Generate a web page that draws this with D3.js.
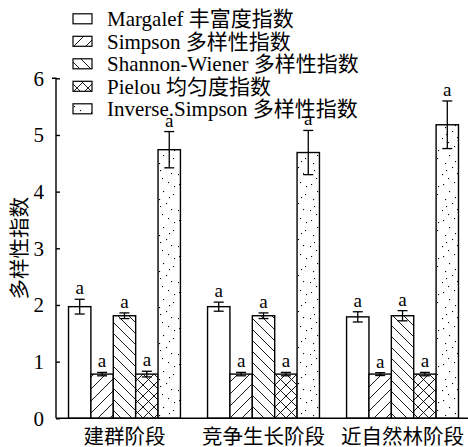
<!DOCTYPE html>
<html><head><meta charset="utf-8">
<script src="https://cdn.jsdelivr.net/npm/d3@7"></script>
<style>
html,body{margin:0;padding:0;background:#fff;}
svg text{font-family:"Liberation Serif","Noto Sans CJK SC",serif;fill:#000;}
</style></head>
<body><svg id="c" width="468" height="447"></svg>
<script>
const categories = ["建群阶段", "竞争生长阶段", "近自然林阶段"];
const seriesNames = ["Margalef 丰富度指数", "Simpson 多样性指数", "Shannon-Wiener 多样性指数", "Pielou 均匀度指数", "Inverse.Simpson 多样性指数"];
const margalef = [1.97, 1.97, 1.79];
const margalefErr = [0.13, 0.08, 0.09];
const simpson = [0.78, 0.78, 0.78];
const simpsonErr = [0.03, 0.03, 0.025];
const shannon = [1.81, 1.81, 1.81];
const shannonErr = [0.05, 0.05, 0.09];
const pielou = [0.78, 0.78, 0.78];
const pielouErr = [0.05, 0.03, 0.03];
const inverseSimpson = [4.74, 4.69, 5.18];
const inverseSimpsonErr = [0.32, 0.39, 0.42];
const sigLetters = [["a","a","a"],["a","a","a"],["a","a","a"],["a","a","a"],["a","a","a"]];
const yTicks = [0, 1, 2, 3, 4, 5, 6];
const yLabel = "多样性指数";

const values = [margalef, simpson, shannon, pielou, inverseSimpson];
const errs = [margalefErr, simpsonErr, shannonErr, pielouErr, inverseSimpsonErr];
const fills = ["url(#pNone)", "url(#pFwd)", "url(#pBack)", "url(#pCross)", "url(#pDots)"];

const svg = d3.select("#c");
const defs = svg.append("defs");
function linePattern(id, size, lines) {
  const p = defs.append("pattern").attr("id", id).attr("patternUnits", "userSpaceOnUse")
    .attr("width", size).attr("height", size);
  p.append("rect").attr("width", size).attr("height", size).attr("fill", "#fff");
  lines.forEach(l => p.append("line").attr("x1", l[0]).attr("y1", l[1]).attr("x2", l[2]).attr("y2", l[3])
    .attr("stroke", "#000").attr("stroke-width", 0.9));
  return p;
}
defs.append("pattern").attr("id","pNone").attr("patternUnits","userSpaceOnUse").attr("width",4).attr("height",4)
  .append("rect").attr("width",4).attr("height",4).attr("fill","#fff");
const s1 = 12;
linePattern("pFwd", s1, [[-1, 1, 1, -1], [0, s1, s1, 0], [s1-1, s1+1, s1+1, s1-1]]);
const s2 = 11;
linePattern("pBack", s2, [[-1, s2-1, 1, s2+1], [0, 0, s2, s2], [s2-1, -1, s2+1, 1]]);
const s3 = 11;
linePattern("pCross", s3, [[0, s3, s3, 0], [0, 0, s3, s3], [-1,1,1,-1],[s3-1,s3+1,s3+1,s3-1],[-1,s3-1,1,s3+1],[s3-1,-1,s3+1,1]]);
const dp = defs.append("pattern").attr("id","pDots").attr("patternUnits","userSpaceOnUse").attr("width",22).attr("height",36);
dp.append("rect").attr("width",22).attr("height",36).attr("fill","#fff");
[[3,4],[14,2],[9,11],[19,14],[5,19],[12,23],[17,29],[2,30],[8,34],[20,6],[15,17],[6,26]].forEach(d =>
  dp.append("rect").attr("x", d[0]).attr("y", d[1]).attr("width", 1.1).attr("height", 1.1).attr("fill", "#000"));

const y = d3.scaleLinear().domain([0, 6]).range([418.3, 78.3]);
const x0 = d3.scaleBand().domain(categories).range([56, 471]).paddingInner(0.195).paddingOuter(0.09);
const x1 = d3.scaleBand().domain(d3.range(seriesNames.length)).range([0, x0.bandwidth()]);

const SERIF = "Liberation Serif";
const CJK = "'Liberation Serif','Noto Sans CJK SC',serif";

// bars
const g = svg.append("g");
categories.forEach((c, ci) => {
  seriesNames.forEach((s, si) => {
    const v = values[si][ci], e = errs[si][ci];
    const bx = x0(c) + x1(si), bw = x1.bandwidth(), cx = bx + bw / 2;
    g.append("rect").attr("x", bx).attr("y", y(v)).attr("width", bw).attr("height", y(0) - y(v))
      .attr("fill", fills[si]).attr("stroke", "#000").attr("stroke-width", 1.4);
    g.append("line").attr("x1", cx).attr("x2", cx).attr("y1", y(v - e)).attr("y2", y(v + e))
      .attr("stroke", "#000").attr("stroke-width", 1.3);
    [v - e, v + e].forEach(t => g.append("line").attr("x1", cx - 5).attr("x2", cx + 5).attr("y1", y(t)).attr("y2", y(t))
      .attr("stroke", "#000").attr("stroke-width", 1.3));
    g.append("text").attr("x", cx).attr("y", y(v + e) - 5).attr("text-anchor", "middle")
      .style("font-family", SERIF).attr("font-size", 19).text(sigLetters[si][ci]);
  });
});

// y axis
const yAxis = d3.axisLeft(y).tickValues(yTicks).tickSize(-4).tickPadding(12).tickFormat(d3.format("d"));
const ya = svg.append("g").attr("transform", "translate(56,0)").call(yAxis);
ya.select(".domain").attr("stroke", "#000").attr("stroke-width", 1.4).attr("d", `M-4,${y(6)}H0V${y(0)}`);
ya.selectAll(".tick line").attr("stroke", "#000").attr("stroke-width", 1.4);
ya.selectAll(".tick text").style("font-family", SERIF).attr("font-size", 21);

// x axis
const xAxis = d3.axisBottom(x0).tickSize(0).tickPadding(11);
const xa = svg.append("g").attr("transform", `translate(0,${y(0)})`).call(xAxis);
xa.select(".domain").attr("stroke", "#000").attr("stroke-width", 1.6).attr("d", "M56,0H468");
xa.selectAll(".tick text").style("font-family", CJK).attr("font-size", 20.5);

// y label
svg.append("text").attr("transform", `translate(20,${(y(0) + y(6)) / 2}) rotate(-90)`)
  .attr("text-anchor", "middle").attr("dominant-baseline", "central")
  .style("font-family", CJK).attr("font-size", 20.5).text(yLabel);

// legend
const lg = svg.append("g");
seriesNames.forEach((s, i) => {
  const cy = 18.8 + i * 22.5;
  lg.append("rect").attr("x", 73).attr("y", cy - 5).attr("width", 19).attr("height", 10)
    .attr("fill", fills[i]).attr("stroke", "#000").attr("stroke-width", 1.2);
  lg.append("text").attr("x", 107).attr("y", cy).attr("dy", "0.35em")
    .style("font-family", CJK).attr("font-size", 21).text(s);
});
</script></body></html>
